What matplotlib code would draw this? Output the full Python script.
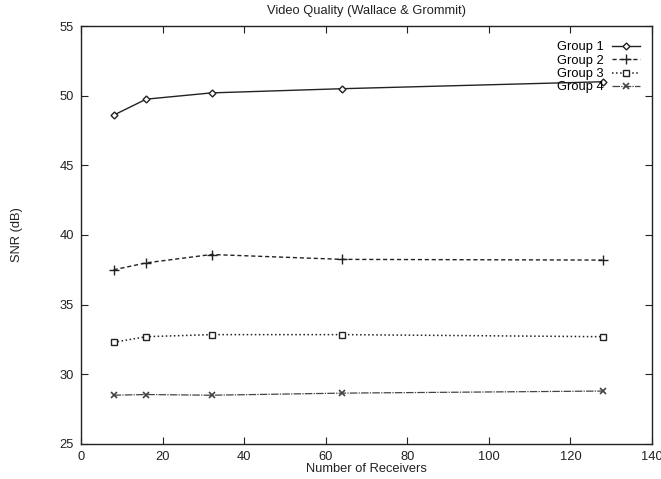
import matplotlib
matplotlib.use("Agg")
import matplotlib.pyplot as plt

plt.rcParams["font.family"] = ["Liberation Sans", "DejaVu Sans"]

receivers = [8, 16, 32, 64, 128]
group1 = [48.6, 49.75, 50.2, 50.5, 51.0]
group2 = [37.5, 38.0, 38.6, 38.25, 38.2]
group3 = [32.3, 32.7, 32.85, 32.85, 32.7]
group4 = [28.5, 28.55, 28.5, 28.65, 28.8]
labels = ["Group 1", "Group 2", "Group 3", "Group 4"]

FS = 9.3
INK = "#222222"

fig = plt.figure(figsize=(6.61, 4.79), dpi=100)
ax = fig.add_axes([0.1225, 0.0731, 0.864, 0.8726])

ax.plot(receivers, group1, "-", color=INK, lw=1.0, marker="D", ms=3.5, mfc="white", mec=INK, label=labels[0])
ax.plot(receivers, group2, "--", color=INK, lw=1.0, marker="+", ms=6.5, mew=1.0, label=labels[1], dashes=(3, 2))
ax.plot(receivers, group3, ":", color=INK, lw=1.1, marker="s", ms=4.5, mfc="white", mec=INK, label=labels[2])
ax.plot(receivers, group4, "-.", color="#444444", lw=0.9, marker="x", ms=5, mew=1.2, label=labels[3], dashes=(6, 1, 1, 1))

ax.set_xlim(0, 140)
ax.set_ylim(25, 55)
ax.set_xticks(range(0, 141, 20))
ax.set_yticks(range(25, 56, 5))
ax.tick_params(direction="in", top=True, right=True, length=5, labelsize=FS, colors=INK, pad=5)
for s in ax.spines.values():
    s.set_linewidth(1.0)
    s.set_color(INK)

ax.set_title("Video Quality (Wallace & Grommit)", fontsize=FS, color=INK, pad=9)
ax.set_xlabel("Number of Receivers", fontsize=FS, color=INK, labelpad=0)
ax.set_ylabel("SNR (dB)", fontsize=FS, color=INK, labelpad=26)

ax.legend(loc="upper right", bbox_to_anchor=(0.995, 0.985), frameon=False, markerfirst=False,
          fontsize=FS, handlelength=2.2, handletextpad=0.6, labelspacing=0.1, borderpad=0.2)

fig.savefig("out.png", dpi=100, facecolor="white")
